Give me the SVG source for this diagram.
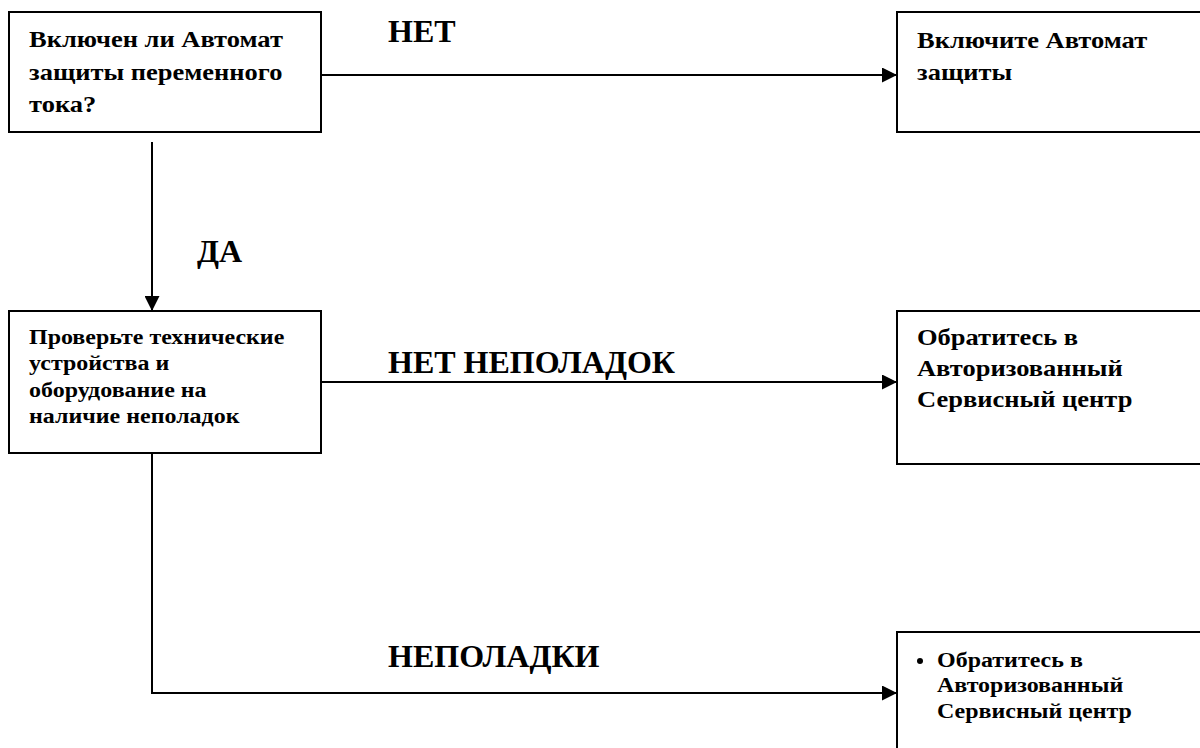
<svg xmlns="http://www.w3.org/2000/svg" width="1200" height="748" viewBox="0 0 1200 748">
<defs>
<marker id="ah" viewBox="0 0 15 15" refX="15" refY="7.5" markerWidth="15" markerHeight="15" markerUnits="userSpaceOnUse" orient="auto">
<path d="M0,0 L15,7.5 L0,15 Z" fill="#000"/>
</marker>
<style>
.box{fill:#fff;stroke:#000;stroke-width:2}
.t{font-family:"Liberation Serif","Times New Roman",serif;font-weight:bold;fill:#000}
.t1{font-size:24px}
.t2{font-size:22px}
.lbl{font-family:"Liberation Serif","Times New Roman",serif;font-weight:bold;font-size:32px;fill:#000}
.c{fill:none;stroke:#000;stroke-width:2}
</style>
</defs>
<rect width="1200" height="748" fill="#fff"/>
<g id="connectors">
<line class="c" x1="321" y1="75" x2="897" y2="75" marker-end="url(#ah)"/>
<line class="c" x1="152" y1="142" x2="152" y2="311" marker-end="url(#ah)"/>
<line class="c" x1="321" y1="382" x2="897" y2="382" marker-end="url(#ah)"/>
<polyline class="c" points="152,453 152,693 897,693" marker-end="url(#ah)"/>
</g>
<g id="labels">
<text class="lbl" x="388" y="42">НЕТ</text>
<text class="lbl" x="197" y="262">ДА</text>
<text class="lbl" x="388" y="373">НЕТ НЕПОЛАДОК</text>
<text class="lbl" x="388" y="667">НЕПОЛАДКИ</text>
</g>
<g id="n1">
<rect class="box" x="9" y="12" width="312" height="120"/>
<text class="t t1" transform="translate(29 0) scale(1.104 1)"><tspan x="0" y="47">Включен ли Автомат</tspan><tspan x="0" y="80">защиты переменного</tspan><tspan x="0" y="112">тока?</tspan></text>
</g>
<g id="n2">
<rect class="box" x="897" y="12" width="320" height="120"/>
<text class="t t1" transform="translate(917 0) scale(1.104 1)"><tspan x="0" y="48">Включите Автомат</tspan><tspan x="0" y="80">защиты</tspan></text>
</g>
<g id="n3">
<rect class="box" x="9" y="311" width="312" height="142"/>
<text class="t t2" transform="translate(29 0) scale(1.09 1)"><tspan x="0" y="344">Проверьте технические</tspan><tspan x="0" y="370">устройства и</tspan><tspan x="0" y="397">оборудование на</tspan><tspan x="0" y="423">наличие неполадок</tspan></text>
</g>
<g id="n4">
<rect class="box" x="897" y="311" width="320" height="153"/>
<text class="t t1" transform="translate(917 0) scale(1.104 1)"><tspan x="0" y="345">Обратитесь в</tspan><tspan x="0" y="376">Авторизованный</tspan><tspan x="0" y="407">Сервисный центр</tspan></text>
</g>
<g id="n5">
<rect class="box" x="897" y="632" width="320" height="140"/>
<circle cx="920" cy="661" r="3"/>
<text class="t t2" transform="translate(937 0) scale(1.09 1)"><tspan x="0" y="667">Обратитесь в</tspan><tspan x="0" y="692">Авторизованный</tspan><tspan x="0" y="718">Сервисный центр</tspan></text>
</g>
</svg>
